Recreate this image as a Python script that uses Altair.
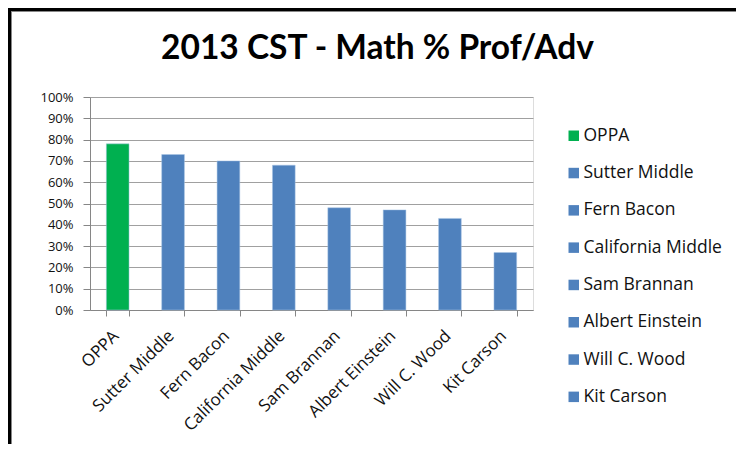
import altair as alt
import pandas as pd

schools = ["OPPA", "Sutter Middle", "Fern Bacon", "California Middle",
           "Sam Brannan", "Albert Einstein", "Will C. Wood", "Kit Carson"]
pct = [0.78, 0.73, 0.70, 0.68, 0.48, 0.47, 0.43, 0.27]
y_ticks = [0, 0.1, 0.2, 0.3, 0.4, 0.5, 0.6, 0.7, 0.8, 0.9, 1.0]

bar_colors = ["#00B050"] + ["#4F81BD"] * 7
FONT = "Open Sans"
TITLE_FONT = "Lato"

df = pd.DataFrame({"school": schools, "pct": pct})

bars = alt.Chart(df).mark_bar(stroke="#a9c4e4", strokeWidth=0.5).encode(
    x=alt.X("school:N", sort=schools, title=None,
            scale=alt.Scale(paddingInner=0.59, paddingOuter=0.295),
            axis=alt.Axis(labelAngle=-45, labelAlign="right", labelBaseline="middle",
                          labelPadding=17, labelOffset=-2, tickBand="extent",
                          tickSize=6, grid=False, domainColor="#868686",
                          tickColor="#868686", labelFont=FONT, labelFontSize=17,
                          labelColor="#111")),
    y=alt.Y("pct:Q", title=None, scale=alt.Scale(domain=[0, 1], nice=False),
            axis=alt.Axis(values=y_ticks, format=".0%", tickSize=7, labelPadding=10,
                          domainColor="#868686", tickColor="#868686",
                          gridColor="#a0a0a0", gridWidth=1,
                          labelFont=FONT, labelFontSize=13, labelColor="#111")),
    color=alt.Color("school:N", sort=schools,
                    scale=alt.Scale(domain=schools, range=bar_colors),
                    legend=alt.Legend(title=None, orient="none", legendX=475, legendY=30,
                                      symbolType="square", symbolSize=110,
                                      symbolStrokeWidth=0, labelFont=FONT,
                                      labelFontSize=17.5, labelColor="#111",
                                      rowPadding=18.3, labelOffset=1, padding=0)),
)

frame_df = pd.DataFrame({"a": [0]})
top_dark = alt.Chart(frame_df).mark_rule(color="#000", strokeWidth=3).encode(
    x=alt.value(-82), x2=alt.value(660), y=alt.value(-87.5))
top_gray = alt.Chart(frame_df).mark_rule(color="#888", strokeWidth=1).encode(
    x=alt.value(-79), x2=alt.value(660), y=alt.value(-85.5))
left_dark = alt.Chart(frame_df).mark_rule(color="#000", strokeWidth=3).encode(
    x=alt.value(-80.5), y=alt.value(-89), y2=alt.value(360))
left_gray = alt.Chart(frame_df).mark_rule(color="#888", strokeWidth=1).encode(
    x=alt.value(-78.5), y=alt.value(-86), y2=alt.value(360))

chart = alt.layer(bars, top_dark, top_gray, left_dark, left_gray).properties(
    width=443, height=213,
    autosize=alt.AutoSizeParams(type="none"),
    padding={"left": 82, "top": 89, "right": 203, "bottom": 134},
    title=alt.TitleParams("2013 CST - Math % Prof/Adv", font=TITLE_FONT, fontSize=33.5,
                          fontWeight="bold", color="#000", anchor="middle",
                          dx=66, offset=-86, baseline="alphabetic"),
).configure_view(stroke=None).configure(background="white")

chart.save("out.html", embed_options={"renderer": "svg", "actions": False})
